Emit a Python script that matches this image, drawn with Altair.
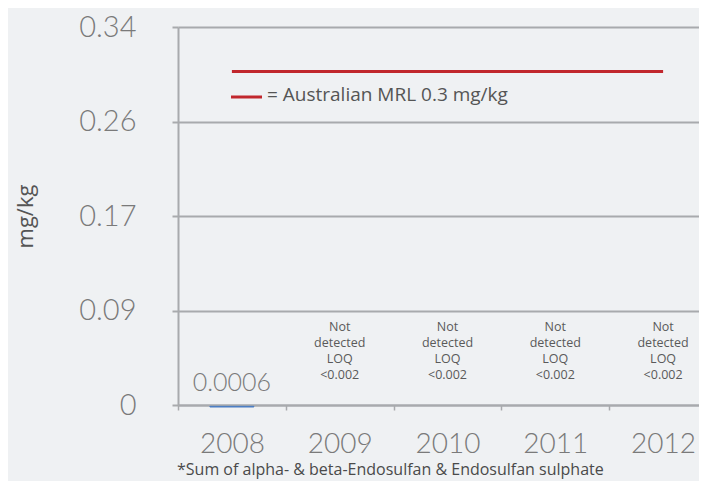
import altair as alt
import pandas as pd

years = ["2008", "2009", "2010", "2011", "2012"]
values = [0.0006, None, None, None, None]
value_labels = ["0.0006", "", "", "", ""]
notes = ["", "Not\ndetected\nLOQ\n<0.002", "Not\ndetected\nLOQ\n<0.002",
         "Not\ndetected\nLOQ\n<0.002", "Not\ndetected\nLOQ\n<0.002"]
y_ticks = [0, 0.085, 0.17, 0.255, 0.34]
mrl_value = 0.3
mrl_text = "= Australian MRL 0.3 mg/kg"
footnote = "*Sum of alpha- & beta-Endosulfan & Endosulfan sulphate"

df = pd.DataFrame({"year": years, "value": values, "vlabel": value_labels, "note": notes})
mrl_df = pd.DataFrame({"start": [years[0]], "end": [years[-1]], "mrl": [mrl_value]})

GRID = "#a8aaad"
NUM_FONT = "Lato"
TXT_FONT = "Open Sans"

xscale = alt.Scale(domain=years, range=[0, 539], paddingInner=0, paddingOuter=0)
yscale = alt.Scale(domain=[0, 0.34], nice=False, zero=True)

x_axis = alt.Axis(
    title=None, labelAngle=0, tickBand="extent", tickSize=5, tickColor=GRID, tickWidth=1.5,
    domainColor=GRID, domainWidth=2, labelFont=NUM_FONT, labelFontWeight=300,
    labelFontSize=28, labelColor="#7a7a7a", labelBaseline="alphabetic", labelPadding=42,
    grid=False,
)
y_axis = alt.Axis(
    title="mg/kg", values=y_ticks,
    labelExpr="datum.value == 0 ? '0' : format(datum.value, '.2f')",
    labelFont=NUM_FONT, labelFontWeight=300, labelFontSize=29, labelColor="#7a7a7a",
    labelPadding=36, tickSize=6, tickColor=GRID, tickWidth=2,
    domainColor=GRID, domainWidth=2, gridColor=GRID, gridWidth=2, grid=True,
    titleFont=TXT_FONT, titleFontSize=22, titleFontWeight="normal", titleColor="#555555",
    titleAngle=270, titleX=-153, titleY=189, titleAlign="center", titleBaseline="middle",
)

base = alt.Chart(df)

bars = base.transform_filter("isValid(datum.value)").mark_bar(
    size=44, color="#4a7dc4", yOffset=2, stroke="#4a7dc4", strokeWidth=1
).encode(
    x=alt.X("year:N", scale=xscale, axis=x_axis, sort=years),
    y=alt.Y("value:Q", scale=yscale, axis=y_axis),
)

vlabels = base.transform_filter("isValid(datum.value)").mark_text(
    font=NUM_FONT, fontWeight=300, fontSize=25, color="#7a7a7a", baseline="alphabetic", dy=-13
).encode(
    x=alt.X("year:N", scale=xscale, sort=years),
    y=alt.Y("value:Q", scale=yscale),
    text="vlabel:N",
)

notes_layer = base.transform_filter("datum.note != ''").mark_text(
    font=TXT_FONT, fontSize=12.5, color="#5a5a5a", baseline="top", lineBreak="\n", lineHeight=16
).encode(
    x=alt.X("year:N", scale=xscale, sort=years),
    y=alt.value(294),
    text="note:N",
)

mrl = alt.Chart(mrl_df).mark_rule(color="#c1272d", strokeWidth=3).encode(
    x=alt.X("start:N", scale=xscale, sort=years),
    x2="end:N",
    y=alt.Y("mrl:Q", scale=yscale),
)

legend_line = alt.Chart(mrl_df).mark_rule(color="#c1272d", strokeWidth=3).encode(
    x=alt.value(53), x2=alt.value(84), y=alt.value(70),
)
legend_text = alt.Chart(mrl_df).mark_text(
    font=TXT_FONT, fontSize=19, color="#555555", align="left", baseline="middle"
).encode(
    x=alt.value(89), y=alt.value(68), text=alt.value(mrl_text),
)
foot = alt.Chart(mrl_df).mark_text(
    font=TXT_FONT, fontSize=16, color="#4a4a4a", align="left", baseline="alphabetic"
).encode(
    x=alt.value(-1), y=alt.value(448), text=alt.value(footnote),
)

chart = alt.layer(bars, vlabels, notes_layer, mrl, legend_line, legend_text, foot).properties(
    width=521, height=378,
    autosize=alt.AutoSizeParams(type="none"),
    padding={"left": 170, "top": 19, "right": 0, "bottom": 76},
    background="#eff1f3",
).configure_view(stroke=None)

chart.save("out.html", embed_options={"renderer": "svg", "actions": False})
